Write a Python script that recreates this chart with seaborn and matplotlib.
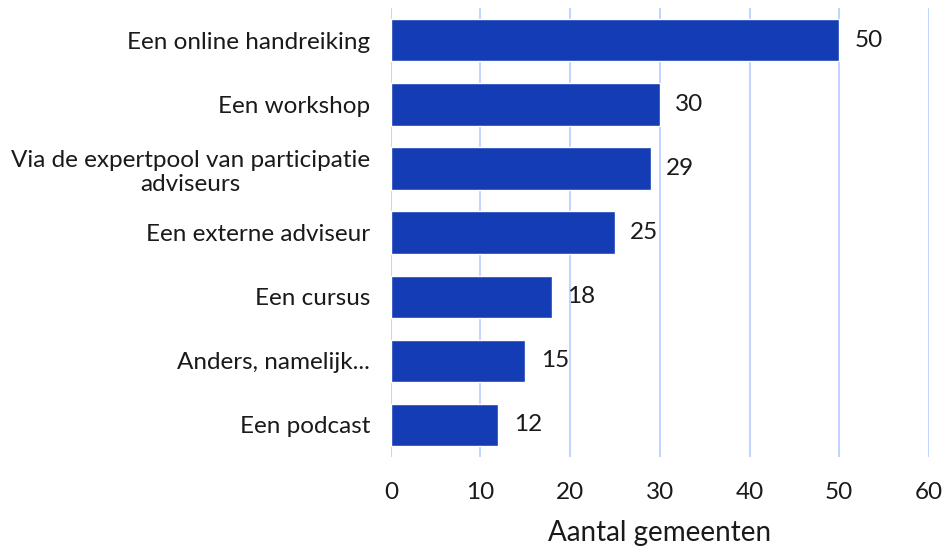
import matplotlib
matplotlib.use("Agg")
import matplotlib.pyplot as plt
import pandas as pd
import seaborn as sns

categories = ["Een online handreiking", "Een workshop",
              "Via de expertpool van participatie\nadviseurs",
              "Een externe adviseur", "Een cursus", "Anders, namelijk...",
              "Een podcast"]
values = [50, 30, 29, 25, 18, 15, 12]
xticks = [0, 10, 20, 30, 40, 50, 60]

df = pd.DataFrame({"categorie": categories, "aantal": values})

sns.set_style("white")
plt.rcParams["font.family"] = ["Lato", "DejaVu Sans"]

fig = plt.figure(figsize=(9.44, 5.48), dpi=100)
ax = fig.add_axes([0.414, 0.166, 0.57, 0.819])

sns.barplot(data=df, x="aantal", y="categorie", orient="h", color="#143CB4",
            saturation=1, width=0.66, ax=ax, zorder=3)

for c in ax.containers:
    ax.bar_label(c, labels=[str(v) for v in values], padding=11,
                 fontsize=17.5, color="#1a1a1a")

ax.set_xlim(0, 60)
ax.set_xticks(xticks)
ax.set_ylim(6.5, -0.5)
ax.grid(axis="x", color="#C3D4FF", linewidth=1.5, zorder=0)
for s in ax.spines.values():
    s.set_visible(False)
ax.tick_params(axis="both", length=0, labelsize=17.5, colors="#1a1a1a")
ax.tick_params(axis="y", pad=15)
ax.tick_params(axis="x", pad=18)
for t in ax.get_yticklabels():
    t.set_horizontalalignment("right")
    t.set_multialignment("center")
ax.set_ylabel("")
ax.set_xlabel("Aantal gemeenten", fontsize=20, color="#1a1a1a", labelpad=12)

fig.savefig("out.png", dpi=100)
